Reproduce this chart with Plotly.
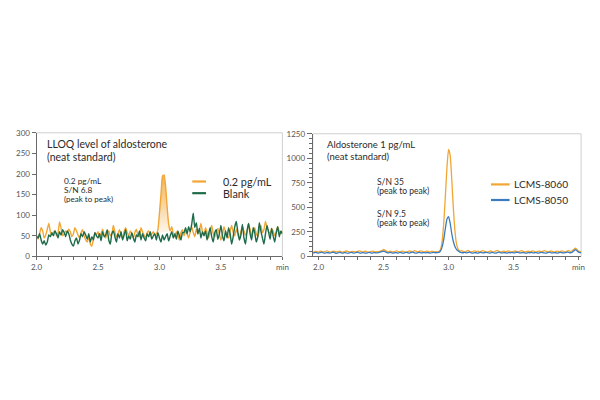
import numpy as np
import plotly.graph_objects as go

# ---------------- data ----------------
# Left panel: LLOQ, x grid 2.0 .. 4.0 (min), step 0.0125
left_x_start, left_x_end = 2.0, 4.0
lloq_02 = [
    48, 42, 55, 70, 62, 45, 52, 66, 80, 60,
    52, 58, 63, 50, 57, 84, 68, 50, 55, 62,
    58, 66, 60, 48, 55, 70, 62, 52, 45, 58,
    65, 50, 40, 35, 48, 30, 25, 42, 58, 52,
    60, 48, 55, 66, 52, 45, 58, 62, 50, 55,
    75, 60, 48, 55, 65, 52, 44, 60, 70, 58,
    50, 62, 55, 45, 58, 66, 52, 48, 70, 60,
    52, 45, 58, 62, 50, 55, 60, 52,
    55, 65, 105, 150, 195, 198, 170, 120, 78, 62,
    72, 55, 48, 60, 52, 40, 58, 65, 50, 62,
    55, 45, 60, 72, 58, 48, 66, 55, 62, 80,
    60, 52, 70, 58, 45, 62, 75, 55, 48, 60,
    68, 55, 40, 52, 72, 60, 50, 45, 62, 75,
    58, 50, 66, 55, 44, 60, 72, 62, 52, 58,
    80, 65, 50, 60, 70, 55, 48, 62, 75, 58,
    65, 85, 70, 60, 55, 68, 62, 50, 58, 72,
    60, 55, 62,
]
lloq_blank = [
    50, 45, 55, 40, 30, 38, 28, 35, 52, 48,
    58, 50, 62, 55, 45, 60, 52, 65, 58, 48,
    62, 55, 40, 30, 25, 38, 45, 30, 40, 55,
    48, 60, 52, 42, 55, 35, 48, 40, 58, 50,
    45, 55, 38, 60, 48, 52, 65, 40, 30, 55,
    62, 48, 35, 55, 45, 60, 40, 52, 65, 38,
    50, 42, 58, 45, 35, 52, 48, 62, 40, 55,
    45, 38, 55, 48, 60, 42, 50, 55, 40, 58,
    45, 35, 52, 40, 48, 55, 38, 50, 60, 45,
    55, 42, 62, 50, 40, 58,
    58, 70, 55, 72, 60, 78, 105, 70, 82, 55, 68, 45, 60, 50,
    62, 40, 55, 70, 48, 35, 58, 65, 42, 55,
    75, 50, 38, 62, 45, 70, 55, 30, 48, 72,
    85, 60, 40, 52, 78, 45, 30, 62, 80, 55,
    40, 70, 58, 35, 48, 82, 62, 45, 30, 55,
    75, 60, 42, 68, 50, 35, 58, 72, 48, 62,
    55,
]
peak_slice = (78, 88)   # samples of the 0.2 pg/mL peak that carry the shaded fill

# Right panel: 1 pg/mL, x grid 1.95 .. 4.025 (min), step 0.0125
right_x_start, right_x_end = 1.95, 4.025
lcms_8060 = [
    48, 45, 52, 50, 44, 55, 50, 46, 52, 58,
    50, 45, 48, 55, 52, 46, 50, 54, 48, 44,
    50, 56, 52, 46, 48, 53, 50, 45, 52, 58,
    52, 47, 50, 55, 48, 44, 50, 54, 52, 48,
    50, 48, 55, 60, 72, 62, 52, 48, 55, 50,
    46, 52, 58, 50, 45, 52, 55, 48, 44, 50,
    56, 52, 48, 60, 54, 48, 52, 58, 50, 46,
    52, 55, 48, 50, 54, 46, 50, 48,
    50, 70, 150, 330, 600, 900, 1090, 1030, 780, 480, 250, 120, 70, 55,
    60, 52, 48, 55, 62, 50, 46, 52,
    58, 50, 55, 48, 52, 60, 54, 48, 45, 52,
    56, 50, 48, 55, 62, 52, 46, 50, 55, 48,
    52, 58, 50, 45, 52, 56, 50, 48, 55, 60,
    52, 46, 50, 55, 48, 52, 58, 50, 45, 52,
    55, 48, 52, 60, 54, 48, 50, 56, 52, 46,
    50, 55, 48, 52, 58, 50, 46, 55, 60, 52,
    58, 70, 85, 72, 55, 50, 48,
]
lcms_8050 = [
    40, 36, 42, 38, 34, 40, 44, 38, 35, 40,
    38, 34, 40, 45, 38, 32, 36, 42, 38, 35,
    40, 38, 32, 36, 42, 38, 34, 40, 45, 38,
    35, 40, 38, 33, 36, 42, 38, 34, 40, 38,
    36, 40, 45, 50, 55, 48, 40, 36, 42, 38,
    34, 40, 38, 35, 42, 38, 33, 37, 42, 38,
    35, 40, 44, 38, 34, 38, 42, 36, 38, 40,
    36, 40, 38, 35, 40, 42, 38, 40, 42,
    55, 95, 170, 280, 380, 405, 340, 230, 150, 100, 70, 55, 45,
    40, 38, 42, 36, 40, 44, 38, 35,
    40, 38, 34, 40, 42, 36, 38, 42, 40, 35,
    38, 42, 36, 34, 40, 44, 38, 36, 40, 38,
    34, 40, 38, 42, 36, 38, 44, 40, 36, 38,
    40, 36, 34, 40, 38, 42, 36, 38, 40, 35,
    38, 42, 40, 36, 34, 40, 44, 38, 36, 40,
    38, 34, 40, 42, 38, 36, 40, 44, 42, 38,
    42, 55, 70, 60, 45, 40, 38,
]

x_tickvals = [2.0, 2.5, 3.0, 3.5, 4.0]
x_ticktext = ["2.0", "2.5", "3.0", "3.5", "min"]

# ---------------- styles ----------------
ORANGE = "#F2A634"
GREEN = "#1D6B48"
BLUE = "#3A7DBE"
TXT = "#2b2b2b"
AX = "#6a6a6a"
FRAME = "#cfcfcf"
FONT = "Lato"
OFF = 8                      # page body margin
W, H = 600 - 2 * OFF, 400 - 2 * OFF


def fx(xp):
    return (xp - OFF) / W


def fy(yp):
    return 1 - (yp - OFF) / H


left_x = np.linspace(left_x_start, left_x_end, len(lloq_02))
left_xb = np.linspace(left_x_start, left_x_end, len(lloq_blank))
right_x = np.linspace(right_x_start, right_x_end, len(lcms_8060))
right_xb = np.linspace(right_x_start, right_x_end, len(lcms_8050))

fig = go.Figure()

# shaded peak (left)
a, b = peak_slice
fig.add_trace(go.Scatter(
    x=left_x[a:b], y=lloq_02[a:b], mode="lines", line=dict(width=0, shape="spline", smoothing=0.5),
    fill="toself",
    fillgradient=dict(type="vertical", start=55, stop=200,
                      colorscale=[[0, "rgba(242,166,52,0.05)"], [1, "rgba(242,166,52,0.85)"]]),
    hoverinfo="skip", showlegend=False, xaxis="x", yaxis="y"))
fig.add_trace(go.Scatter(x=left_x, y=lloq_02, mode="lines", name="0.2 pg/mL",
                         line=dict(color=ORANGE, width=1.4, shape="spline", smoothing=0.5),
                         xaxis="x", yaxis="y"))
fig.add_trace(go.Scatter(x=left_xb, y=lloq_blank, mode="lines", name="Blank",
                         line=dict(color=GREEN, width=1.4, shape="spline", smoothing=0.5),
                         xaxis="x", yaxis="y"))

fig.add_trace(go.Scatter(x=right_x, y=lcms_8060, mode="lines", name="LCMS-8060",
                         line=dict(color=ORANGE, width=1.3, shape="spline", smoothing=0.5),
                         xaxis="x2", yaxis="y2"))
fig.add_trace(go.Scatter(x=right_xb, y=lcms_8050, mode="lines", name="LCMS-8050",
                         line=dict(color=BLUE, width=1.3, shape="spline", smoothing=0.5),
                         xaxis="x2", yaxis="y2"))

common_x = dict(tickvals=x_tickvals, ticktext=x_ticktext, ticks="outside", ticklen=3,
                tickcolor=AX, showline=True, linecolor=AX, linewidth=1, showgrid=False,
                zeroline=False, tickfont=dict(size=8, color="#555", family=FONT),
                minor=dict(dtick=0.1, ticks="outside", ticklen=3, tickcolor=AX))
common_y = dict(ticks="outside", tickcolor=AX, showline=True, linecolor=AX, linewidth=1,
                showgrid=False, zeroline=False, tickfont=dict(size=8, color="#555", family=FONT))

fig.update_layout(
    width=W, height=H, margin=dict(l=0, r=0, t=0, b=0),
    paper_bgcolor="white", plot_bgcolor="white", showlegend=False,
    font=dict(family=FONT, color=TXT),
    xaxis=dict(domain=[fx(31), fx(282)], range=[left_x_start, left_x_end], anchor="y", **common_x),
    yaxis=dict(domain=[fy(258), fy(131)], range=[0, 300], dtick=50, ticklen=4, anchor="x",
               **common_y),
    xaxis2=dict(domain=[fx(313), fx(587)], range=[1.955, 4.02], anchor="y2", **common_x),
    yaxis2=dict(domain=[fy(258), fy(132)], range=[0, 1250], dtick=250, ticklen=5,
                anchor="x2",
                minor=dict(dtick=50, ticks="outside", ticklen=3, tickcolor=AX), **common_y),
)

shapes = []
# light frame (top/right)
for xr, yr in (("x domain", "y domain"), ("x2 domain", "y2 domain")):
    shapes.append(dict(type="rect", xref=xr, yref=yr, x0=0, x1=1, y0=0, y1=1,
                       line=dict(color=FRAME, width=1), layer="below"))

annotations = []


def text(xp, yp, s, size, color=TXT):
    annotations.append(dict(xref="paper", yref="paper", x=fx(xp), y=fy(yp), text=s,
                            showarrow=False, xanchor="left", yanchor="middle",
                            font=dict(size=size, color=color, family=FONT)))


def legend_item(x0p, x1p, tx, yp, color, label, size):
    shapes.append(dict(type="line", xref="paper", yref="paper", x0=fx(x0p), x1=fx(x1p),
                       y0=fy(yp), y1=fy(yp), line=dict(color=color, width=2.2)))
    text(tx, yp, label, size)


text(40, 143, "LLOQ level of aldosterone", 10.5)
text(40, 156, "(neat standard)", 10.5)
text(57, 181, "0.2 pg/mL", 8.3)
text(57, 190, "S/N 6.8", 8.3)
text(57, 199, "(peak to peak)", 8)
legend_item(190, 204, 219, 181, ORANGE, "0.2 pg/mL", 10.8)
legend_item(190, 204, 219, 193, GREEN, "Blank", 10.8)

text(326, 143, "Aldosterone 1 pg/mL", 9.5)
text(326, 155, "(neat standard)", 9.5)
text(377, 182, "S/N 35", 8.5)
text(377, 191, "(peak to peak)", 8.5)
text(377, 214, "S/N 9.5", 8.5)
text(377, 224, "(peak to peak)", 8.5)
legend_item(495, 514, 516, 184, ORANGE, "LCMS-8060", 10.2)
legend_item(495, 514, 516, 200, BLUE, "LCMS-8050", 10.2)

fig.update_layout(shapes=shapes, annotations=annotations)
fig.write_html("out.html")
